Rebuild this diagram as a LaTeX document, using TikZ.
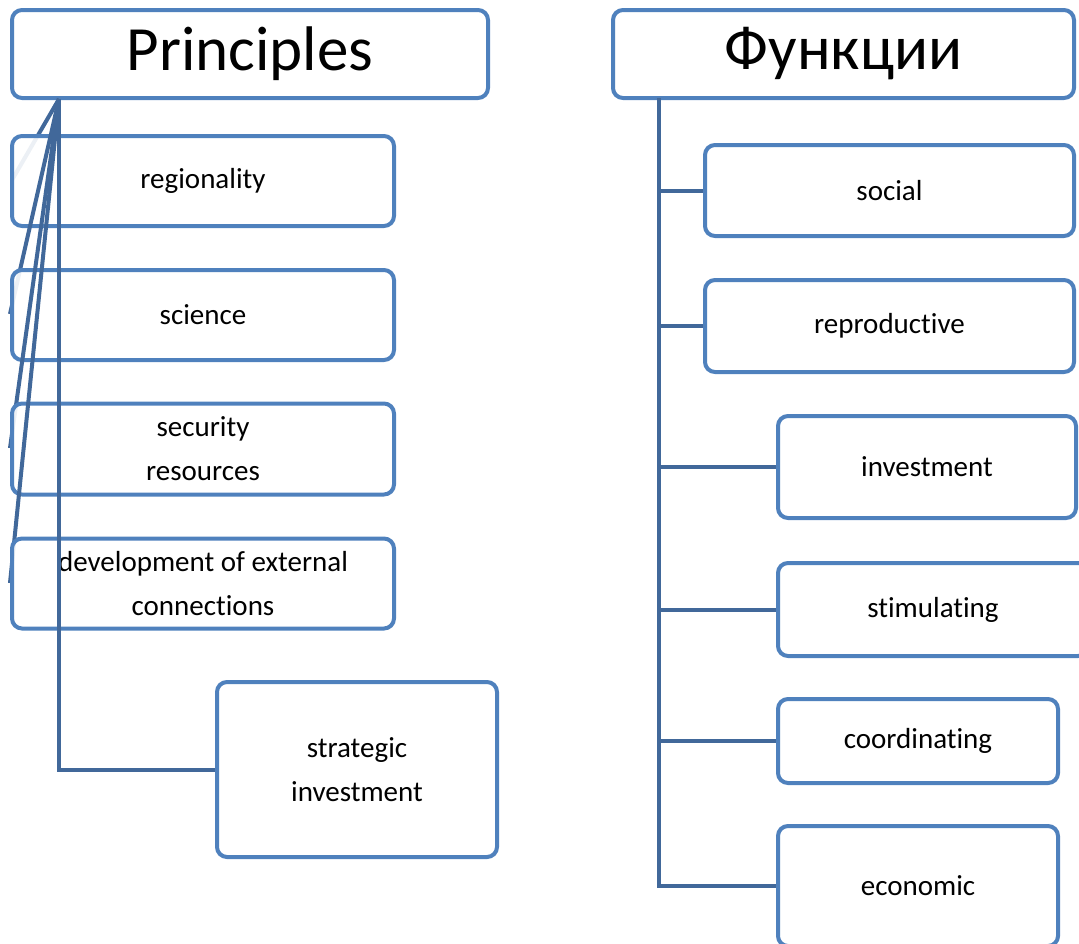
\documentclass[tikz,border=0pt]{standalone}
\usepackage{fontspec}
\setmainfont{Carlito}[Ligatures=NoCommon]
\usepackage{xcolor}
\usepackage{tikz}
\usetikzlibrary{positioning, calc}
\definecolor{boxblue}{HTML}{4F81BD}
\definecolor{linkblue}{HTML}{41689A}
\tikzset{
    baseblock/.style={rectangle, draw=boxblue, line width=4pt, rounded corners=10pt, fill=white, fill opacity=0.9, text opacity=1, align=center, inner sep=0pt},
    titleblock/.style={baseblock, font=\fontsize{63}{70}\selectfont, minimum height=88pt},
    itemblock/.style={baseblock, font=\fontsize{29}{44}\selectfont},
    linkline/.style={line width=4pt, color=linkblue}
}
\begin{document}
\begin{tikzpicture}[x=1pt, y=-1pt]
    \path[use as bounding box] (0,0) rectangle (1079,943);
    \clip (0,0) rectangle (1079,943);

    % left column
    \node (princ) [titleblock, minimum width=476pt] at (250,54) {\raisebox{-3pt}{Principles}};
    \coordinate (ltop) at (59,99);

    \draw [linkline] (ltop) -- (12,180);
    \node (region) [itemblock, minimum width=382pt, minimum height=90pt] at (203,181) {regionality};
    \draw [linkline] (ltop) -- (region.west |- 0,314);
    \node (science) [itemblock, minimum width=382pt, minimum height=90pt] at (203,315) {science};
    \draw [linkline] (ltop) -- (region.west |- 0,448);
    \node (secur) [itemblock, minimum width=382pt, minimum height=91pt] at (203,449) {security\\resources};
    \draw [linkline] (ltop) -- (region.west |- 0,583);
    \node (devel) [itemblock, minimum width=382pt, minimum height=90pt] at (203,583.5) {development of external\\connections};

    \node (strat) [itemblock, minimum width=280pt, minimum height=175pt] at (357,769.5) {strategic\\investment};
    \draw [linkline] (ltop) |- (strat.west);

    % right column
    \node (funct) [titleblock, minimum width=461pt] at (843.5,54) {\raisebox{-3pt}{Функции}};
    \coordinate (rtop) at (659,98);

    \node (social) [itemblock, minimum width=369pt, minimum height=91pt] at (889.5,190.5) {social};
    \node (repro) [itemblock, minimum width=369pt, minimum height=92pt] at (889.5,326) {reproductive};
    \node (invest) [itemblock, minimum width=298pt, minimum height=102pt] at (927,467) {investment};
    \node (stimul) [itemblock, minimum width=310pt, minimum height=93pt] at (933,609.5) {stimulating};
    \node (coord) [itemblock, minimum width=280pt, minimum height=84pt] at (918,741) {coordinating};
    \node (econ) [itemblock, minimum width=280pt, minimum height=120pt] at (918,886) {economic};

    \draw [linkline] (rtop) |- (econ.west);
    \foreach \b in {social, repro, invest, stimul, coord}
        \draw [linkline] (rtop |- \b.west) -- (\b.west);
\end{tikzpicture}
\end{document}
